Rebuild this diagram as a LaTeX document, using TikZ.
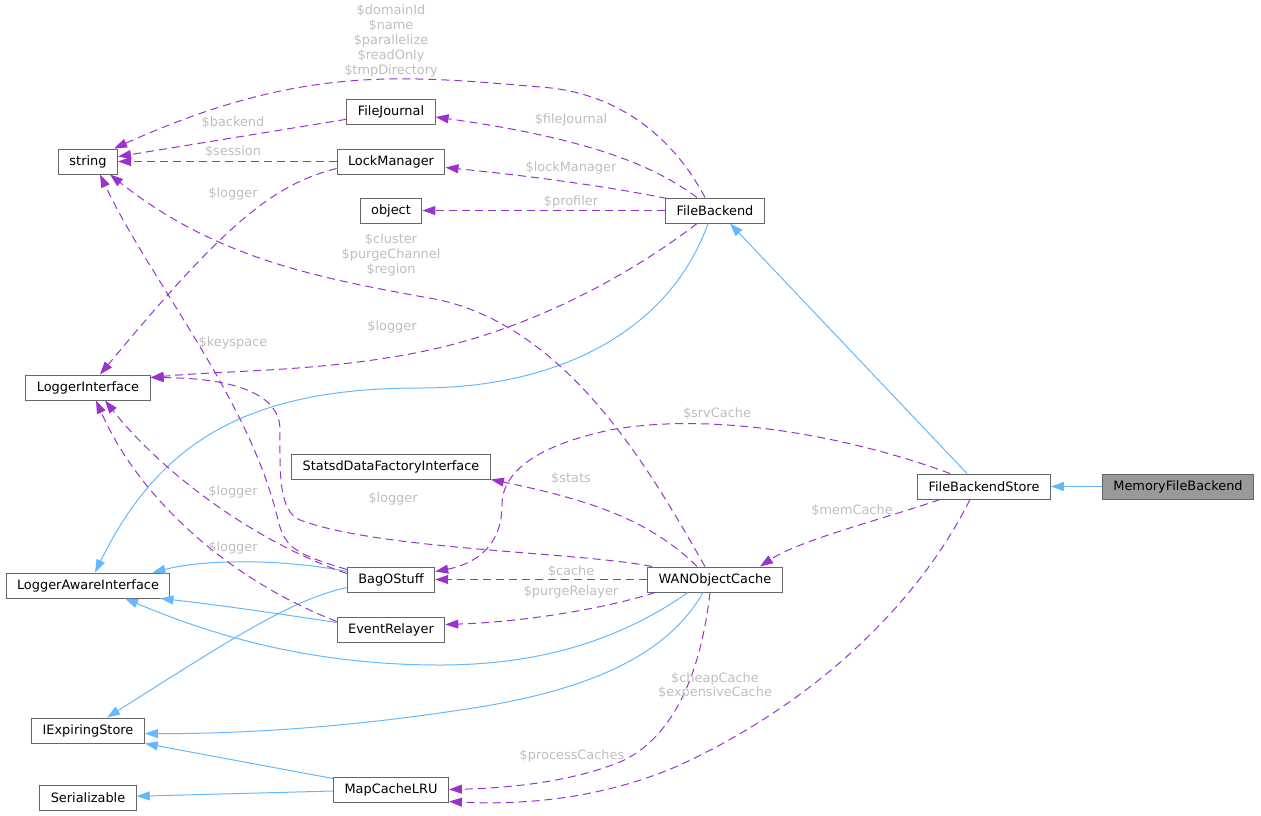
\documentclass[tikz,border=0pt]{standalone}
\usepackage{fontspec}
\setmainfont{DejaVu Sans}
\usetikzlibrary{shapes,calc,arrows.meta}
\definecolor{inhblue}{RGB}{99,184,255}
\definecolor{usepurple}{RGB}{154,50,205}
\definecolor{lblgrey}{RGB}{190,190,190}
\definecolor{boxgrey}{RGB}{102,102,102}
\definecolor{mainfill}{RGB}{153,153,153}

\begin{document}
\begin{tikzpicture}[x=1pt,y=-1pt,
    font=\fontsize{12.9}{14.8}\selectfont,
    cls/.style={draw=boxgrey,line width=1pt,rectangle,fill=white,minimum height=25pt,inner xsep=11pt,inner ysep=0pt},
    inh/.style={draw=inhblue,line width=1pt,-{Triangle[length=13pt,width=9pt]}},
    use/.style={draw=usepurple,line width=1pt,dash pattern=on 8pt off 5pt,-{Triangle[length=13pt,width=9pt]}},
    lbl/.style={text=lblgrey,inner sep=0pt,align=center}]
  \useasboundingbox (0,0) rectangle (1261,815);

  \node[cls] (string) at (88,161.5) {string};
  \node[cls] (FileJournal) at (391,112) {FileJournal};
  \node[cls] (LockManager) at (391,161.5) {LockManager};
  \node[cls] (object) at (391,210.5) {object};
  \node[cls] (FileBackend) at (715,210.5) {FileBackend};
  \node[cls] (LoggerInterface) at (88,387.5) {LoggerInterface};
  \node[cls] (StatsdDataFactoryInterface) at (391,466.5) {StatsdDataFactoryInterface};
  \node[cls] (FileBackendStore) at (984,486.5) {FileBackendStore};
  \node[cls,fill=mainfill] (MemoryFileBackend) at (1178,486.5) {MemoryFileBackend};
  \node[cls] (LoggerAwareInterface) at (88,585.5) {LoggerAwareInterface};
  \node[cls] (BagOStuff) at (391,579.5) {BagOStuff};
  \node[cls] (WANObjectCache) at (715,579.5) {WANObjectCache};
  \node[cls] (EventRelayer) at (391,629.5) {EventRelayer};
  \node[cls] (IExpiringStore) at (88,730.5) {IExpiringStore};
  \node[cls] (Serializable) at (88,797.5) {Serializable};
  \node[cls] (MapCacheLRU) at (391,789.5) {MapCacheLRU};

  \draw[inh] (MemoryFileBackend) -- (FileBackendStore);
  \draw[inh] ($(FileBackendStore.north)+(-17,0)$) -- ($(FileBackend.south)+(15,0)$);
  \draw[inh] ($(FileBackend.south)+(-7,0)$) .. controls (670,330) and (560,388) .. (420,388)
    .. controls (250,388) and (160,440) .. ($(LoggerAwareInterface.north)+(7,0)$);
  \draw[inh] ($(BagOStuff.west)+(0,-8)$) .. controls (290,560) and (210,558) .. ($(LoggerAwareInterface.north east)+(-18,0)$);
  \draw[inh] ($(EventRelayer.west)+(0,-7)$) .. controls (280,614) and (220,605) .. ($(LoggerAwareInterface.south east)+(-10,0)$);
  \draw[inh] ($(WANObjectCache.south)+(-27,0)$) .. controls (620,640) and (540,665) .. (440,665)
    .. controls (300,665) and (200,630) .. ($(LoggerAwareInterface.south)+(37,0)$);
  \draw[inh] ($(BagOStuff.west)+(0,8)$) .. controls (290,600) and (230,640) .. ($(IExpiringStore.north)+(19,0)$);
  \draw[inh] ($(WANObjectCache.south)+(-12,0)$) .. controls (670,650) and (600,690) .. (460,710)
    .. controls (330,730) and (220,734) .. ($(IExpiringStore.east)+(0,3)$);
  \draw[inh] ($(MapCacheLRU.west)+(0,-11)$) -- (IExpiringStore.south east);
  \draw[inh] (MapCacheLRU) -- (Serializable);

  \draw[use] ($(FileBackend.north)+(-10,0)$) .. controls (675,140) and (620,92) .. (540,87)
    .. controls (400,75) and (300,65) .. ($(string.north east)+(-4,0)$);
  \draw[use] ($(FileBackend.north)+(-18,0)$) .. controls (660,170) and (600,140) .. ($(FileJournal.east)+(0,5)$);
  \draw[use] ($(FileBackend.north west)+(2,1)$) .. controls (600,185) and (520,175) .. ($(LockManager.east)+(0,6)$);
  \draw[use] (FileBackend) -- (object);
  \draw[use] ($(FileBackend.south)+(-18,0)$) .. controls (630,275) and (530,330) .. (420,352)
    .. controls (320,372) and (230,370) .. ($(LoggerInterface.east)+(0,-10)$);
  \draw[use] (FileJournal) -- (string);
  \draw[use] (LockManager) -- (string);
  \draw[use] ($(LockManager.west)+(0,7)$) .. controls (270,185) and (220,230) .. ($(LoggerInterface.north)+(12,0)$);
  \draw[use] ($(BagOStuff.west)+(0,-10)$) .. controls (300,555) and (285,550) .. (278,520)
    .. controls (250,400) and (150,280) .. ($(string.south)+(12,0)$);
  \draw[use] ($(WANObjectCache.north)+(-10,0)$) .. controls (650,470) and (570,330) .. (440,300)
    .. controls (330,280) and (220,262) .. ($(string.south)+(22,0)$);
  \draw[use] ($(BagOStuff.west)+(0,-6)$) .. controls (250,540) and (160,470) .. ($(LoggerInterface.south)+(17,0)$);
  \draw[use] ($(EventRelayer.west)+(0,-8)$) .. controls (230,580) and (140,500) .. ($(LoggerInterface.south)+(8,0)$);
  \draw[use] ($(WANObjectCache.north west)+(5,0)$) .. controls (580,552) and (380,550) .. (300,520)
    .. controls (278,511) and (280,470) .. (280,430)
    .. controls (280,385) and (210,378) .. ($(LoggerInterface.east)+(0,-10)$);
  \draw[use] ($(FileBackendStore.north)+(-34,0)$) .. controls (860,440) and (720,410) .. (610,430)
    .. controls (540,445) and (502,470) .. (502,505)
    .. controls (502,550) and (470,565) .. ($(BagOStuff.east)+(0,-8)$);
  \draw[use] ($(WANObjectCache.north)+(-18,0)$) .. controls (650,520) and (590,500) .. (StatsdDataFactoryInterface.south east);
  \draw[use] (WANObjectCache) -- (BagOStuff);
  \draw[use] ($(WANObjectCache.south west)+(8,0)$) .. controls (600,610) and (520,622) .. ($(EventRelayer.east)+(0,-5)$);
  \draw[use] ($(FileBackendStore.south west)+(23,0)$) .. controls (880,520) and (800,540) .. ($(WANObjectCache.north)+(45,0)$);
  \draw[use] ($(WANObjectCache.south)+(-5,0)$) .. controls (700,680) and (670,740) .. (620,762)
    .. controls (570,782) and (510,788) .. (MapCacheLRU.east);
  \draw[use] ($(FileBackendStore.south)+(-14,0)$) .. controls (920,600) and (820,700) .. (680,765)
    .. controls (600,800) and (520,805) .. ($(MapCacheLRU.south east)+(0,-1)$);

  \node[lbl] (lFileBackendStr) at (391,41) {\$domainId\\\$name\\\$parallelize\\\$readOnly\\\$tmpDirectory};
  \node[lbl] (lBackend) at (233,123) {\$backend};
  \node[lbl] (lSession) at (233,152) {\$session};
  \node[lbl] (lLockLogger) at (233,194) {\$logger};
  \node[lbl] (lFileJournal) at (571,120) {\$fileJournal};
  \node[lbl] (lLockManager) at (571,168) {\$lockManager};
  \node[lbl] (lProfiler) at (571,202) {\$profiler};
  \node[lbl] (lWanStr) at (391,255) {\$cluster\\\$purgeChannel\\\$region};
  \node[lbl] (lBackendLogger) at (392,327) {\$logger};
  \node[lbl] (lKeyspace) at (233,343) {\$keyspace};
  \node[lbl] (lSrvCache) at (717,414) {\$srvCache};
  \node[lbl] (lStats) at (571,479) {\$stats};
  \node[lbl] (lBagLogger) at (233,492) {\$logger};
  \node[lbl] (lWanLogger) at (393,499) {\$logger};
  \node[lbl] (lMemCache) at (852,511) {\$memCache};
  \node[lbl] (lRelayerLogger) at (233,548) {\$logger};
  \node[lbl] (lCache) at (571,572) {\$cache};
  \node[lbl] (lPurgeRelayer) at (571,592) {\$purgeRelayer};
  \node[lbl] (lStoreCaches) at (715,686) {\$cheapCache\\\$expensiveCache};
  \node[lbl] (lProcessCaches) at (572,756) {\$processCaches};
\end{tikzpicture}
\end{document}
